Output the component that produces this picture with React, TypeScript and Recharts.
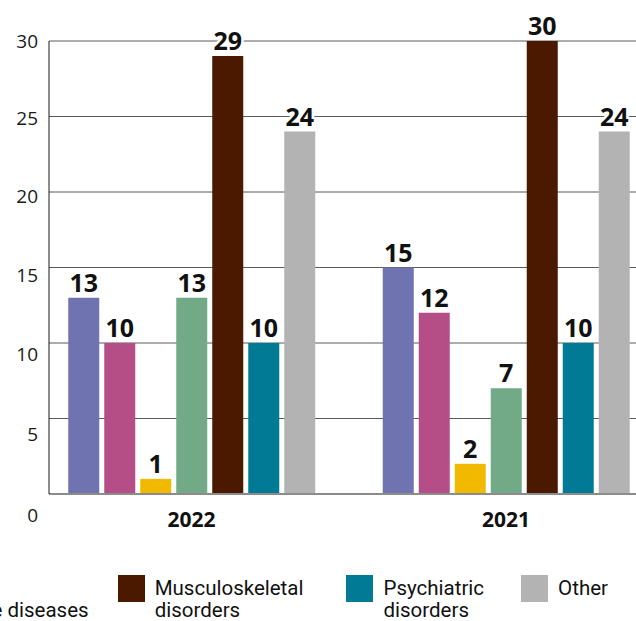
import React from 'react';
import { BarChart, Bar, XAxis, YAxis, CartesianGrid, LabelList } from 'recharts';

const categories = ['2022', '2021'];
const seriesNames = [
  'Cardiovascular diseases',
  'Cancer',
  'Respiratory diseases',
  'Non-communicable diseases',
  'Musculoskeletal disorders',
  'Psychiatric disorders',
  'Other',
];
const legendLabels = [
  'Cardiovascular\ndiseases',
  'Cancer',
  'Respiratory\ndiseases',
  'Non-\ncommunicable diseases',
  'Musculoskeletal\ndisorders',
  'Psychiatric\ndisorders',
  'Other',
];
const seriesColors = ['#6f74b0', '#b54e87', '#f1b900', '#72aa87', '#4b1900', '#017b95', '#b3b3b3'];

const cardiovascular = [13, 15];
const cancer = [10, 12];
const respiratory = [1, 2];
const nonCommunicable = [13, 7];
const musculoskeletal = [29, 30];
const psychiatric = [10, 10];
const other = [24, 24];
const seriesValues = [cardiovascular, cancer, respiratory, nonCommunicable, musculoskeletal, psychiatric, other];

const yTicks = [0, 5, 10, 15, 20, 25, 30];
const xTicks = categories.map((_, i) => i);

const data = categories.map((year, i) => {
  const row: Record<string, number | string> = { x: i, year };
  seriesValues.forEach((vals, s) => {
    row['s' + s] = vals[i];
  });
  return row;
});

const W = 636;
const H = 621;
// spacing before each legend item (layout only)
const legendSpacing = [0, 38, 38, 38, 29, 43, 37];

const YTick = (props: any) => {
  const { x, y, payload } = props;
  const v = Number(payload.value);
  const shift = 21 * Math.pow((30 - v) / 30, 1.5);
  return (
    <text
      x={x}
      y={y + shift}
      dy="0.36em"
      textAnchor="end"
      fontFamily="'Open Sans', sans-serif"
      fontSize={19}
      fill="#1a1a1a"
    >
      {v}
    </text>
  );
};

const XTick = (props: any) => {
  const { x, y, payload } = props;
  return (
    <text
      x={x}
      y={y + 25}
      dy="0.36em"
      textAnchor="middle"
      fontFamily="'Open Sans', sans-serif"
      fontSize={21}
      fontWeight={700}
      fill="#111"
    >
      {categories[payload.value]}
    </text>
  );
};

const ValueLabel = (props: any) => {
  const { x, y, width, value } = props;
  return (
    <text
      x={Number(x) + Number(width) / 2}
      y={Number(y) - 6}
      textAnchor="middle"
      fontFamily="'Open Sans', sans-serif"
      fontSize={25}
      fontWeight={700}
      fill="#111"
      stroke="#fff"
      strokeWidth={5}
      strokeLinejoin="round"
      paintOrder="stroke"
    >
      {value}
    </text>
  );
};

const Legend = () => (
  <div
    style={{
      position: 'absolute',
      top: 575,
      left: 0,
      width: W - 28,
      display: 'flex',
      justifyContent: 'flex-end',
      whiteSpace: 'nowrap',
    }}
  >
    {seriesNames.map((name, i) => (
      <div
        key={name}
        style={{ display: 'flex', alignItems: 'flex-start', flexShrink: 0, marginLeft: legendSpacing[i] }}
      >
        <div style={{ width: 27, height: 27, background: seriesColors[i], marginRight: 10, flexShrink: 0 }} />
        <div
          style={{
            fontFamily: 'Roboto, sans-serif',
            fontSize: 20.5,
            lineHeight: '22px',
            marginTop: 2,
            color: '#111',
            whiteSpace: 'pre',
          }}
        >
          {legendLabels[i]}
        </div>
      </div>
    ))}
  </div>
);

export default function App() {
  const xMin = -(191.5 - 49) / 314.5;
  const xMax = (636 - 191.5) / 314.5;
  return (
    <div style={{ position: 'absolute', left: 0, top: 0, width: W, height: H, overflow: 'hidden', background: '#fff' }}>
      <BarChart
        width={W}
        height={H}
        data={data}
        margin={{ top: 41, right: 0, left: 0, bottom: 67 }}
        barSize={31}
        barGap={5}
      >
        <CartesianGrid vertical={false} stroke="#5a5a5a" strokeWidth={1} />
        <XAxis
          dataKey="x"
          type="number"
          domain={[xMin, xMax]}
          ticks={xTicks}
          allowDataOverflow
          height={60}
          tickSize={0}
          tickMargin={0}
          tickLine={false}
          axisLine={{ stroke: '#8c8c8c', strokeWidth: 2 }}
          tick={<XTick />}
          interval={0}
        />
        <YAxis
          domain={[0, 30]}
          ticks={yTicks}
          width={49}
          tickSize={0}
          tickMargin={11}
          tickLine={false}
          axisLine={{ stroke: '#1a1a1a', strokeWidth: 1 }}
          tick={<YTick />}
          interval={0}
        />
        {seriesNames.map((name, i) => (
          <Bar key={name} dataKey={'s' + i} name={name} fill={seriesColors[i]} isAnimationActive={false}>
            <LabelList dataKey={'s' + i} content={<ValueLabel />} />
          </Bar>
        ))}
      </BarChart>
      <Legend />
    </div>
  );
}
